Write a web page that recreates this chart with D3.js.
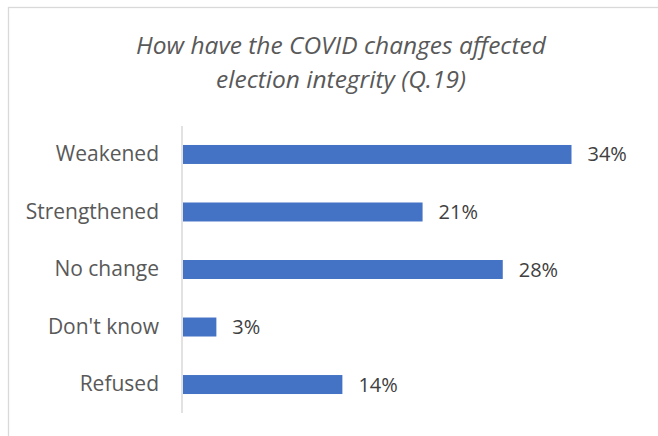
<!DOCTYPE html>
<html>
<head>
<meta charset="utf-8">
<script src="https://cdn.jsdelivr.net/npm/d3@7"></script>
<style>
  html, body { margin: 0; padding: 0; background: #fff; }
  svg { display: block; }
</style>
</head>
<body>
<svg id="chart" width="658" height="436"></svg>
<script>
const categories = ["Weakened", "Strengthened", "No change", "Don't know", "Refused"];
const values = [34, 21, 28, 3, 14];
const titleLines = ["How have the COVID changes affected", "election integrity (Q.19)"];

const svg = d3.select("#chart");
const W = 658, H = 436;

// chart frame
svg.append("rect")
  .attr("x", 8.5).attr("y", 7.5)
  .attr("width", W + 20).attr("height", H + 20)
  .attr("fill", "#fff")
  .attr("stroke", "#d9d9d9")
  .attr("stroke-width", 1.3);

// title
svg.append("g")
  .selectAll("text")
  .data(titleLines)
  .join("text")
  .attr("x", 341)
  .attr("y", (d, i) => 54 + i * 33.5)
  .attr("text-anchor", "middle")
  .attr("font-family", "'Open Sans', sans-serif")
  .attr("font-style", "italic")
  .attr("font-size", 24.5)
  .attr("fill", "#595959")
  .text(d => d);

const x = d3.scaleLinear().domain([0, 40]).range([182, 182 + 40 * (389.5 / 34)]);
const y = d3.scaleBand().domain(categories).range([126, 413]).paddingInner(0.67).paddingOuter(0.33);

// category axis
const yAxis = svg.append("g")
  .attr("transform", `translate(${x(0)},0)`)
  .call(d3.axisLeft(y).tickSize(0).tickPadding(23));
yAxis.select(".domain")
  .attr("stroke", "#d9d9d9")
  .attr("stroke-width", 1.5)
  .attr("d", `M0,126V413`);
yAxis.selectAll(".tick text")
  .attr("font-family", "'Open Sans', sans-serif")
  .attr("font-size", 21)
  .attr("fill", "#595959");

const data = categories.map((c, i) => ({ c, v: values[i] }));

// bars
svg.append("g")
  .selectAll("rect")
  .data(data)
  .join("rect")
  .attr("x", x(0) + 1)
  .attr("y", d => y(d.c))
  .attr("width", d => x(d.v) - x(0) - 1)
  .attr("height", y.bandwidth())
  .attr("fill", "#4472c4");

// value labels
svg.append("g")
  .selectAll("text")
  .data(data)
  .join("text")
  .attr("x", d => x(d.v) + 16)
  .attr("y", d => y(d.c) + y.bandwidth() / 2)
  .attr("dy", "0.35em")
  .attr("font-family", "'Open Sans', sans-serif")
  .attr("font-size", 20)
  .attr("fill", "#404040")
  .text(d => d.v + "%");
</script>
</body>
</html>
